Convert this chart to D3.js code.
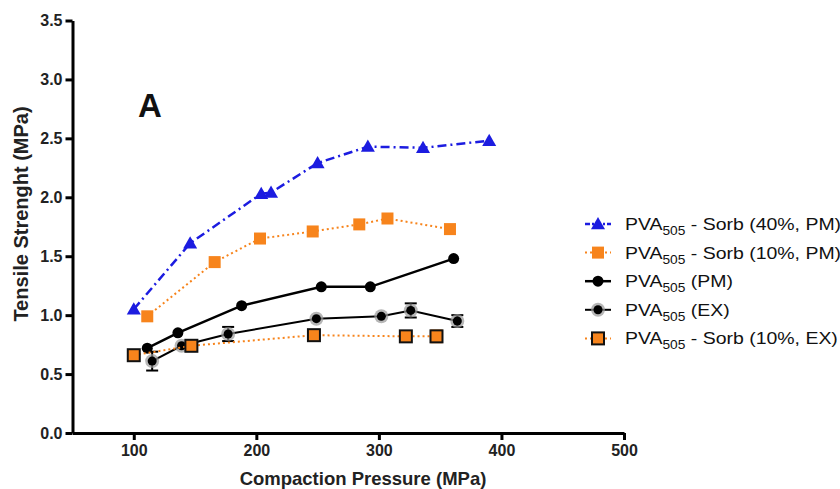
<!DOCTYPE html>
<html>
<head>
<meta charset="utf-8">
<script src="https://cdn.jsdelivr.net/npm/d3@7"></script>
<style>
    body { margin: 0; background: #fff; }
    svg text { font-family: "Liberation Sans", Arial, sans-serif; }
</style>
</head>
<body>
<svg id="chart" width="840" height="489"></svg>
<script>
// data
var sorb40PmX = [100, 146, 204, 212, 250, 291, 336, 390];
var sorb40PmY = [1.05, 1.61, 2.03, 2.04, 2.29, 2.43, 2.42, 2.48];

var sorb10PmX = [111, 166, 203, 246, 284, 307, 358];
var sorb10PmY = [0.99, 1.45, 1.65, 1.71, 1.77, 1.82, 1.73];

var pvaPmX = [111, 136, 188, 253, 293, 361];
var pvaPmY = [0.72, 0.85, 1.08, 1.24, 1.24, 1.48];

var pvaExX = [115, 139, 177, 249, 302, 326, 364];
var pvaExY = [0.61, 0.74, 0.84, 0.97, 0.99, 1.04, 0.95];
var pvaExErr = [0.08, 0, 0.06, 0, 0, 0.06, 0.05];

var sorb10ExX = [100, 147, 247, 322, 347];
var sorb10ExY = [0.66, 0.74, 0.83, 0.82, 0.82];
var sorb10ExErr = [0, 0, 0, 0, 0.05];

var xTicks = [100, 200, 300, 400, 500];
var yTicks = [0, 0.5, 1.0, 1.5, 2.0, 2.5, 3.0, 3.5];

var legendNames = [
    ["PVA", "505", " - Sorb (40%, PM)"],
    ["PVA", "505", " - Sorb (10%, PM)"],
    ["PVA", "505", " (PM)"],
    ["PVA", "505", " (EX)"],
    ["PVA", "505", " - Sorb (10%, EX)"]
];

var BLUE = "#1c1ce0";
var ORANGE = "#f7841c";

var svg = d3.select("#chart");

var x = d3.scaleLinear().domain([50, 500]).range([72.5, 624]);
var y = d3.scaleLinear().domain([0, 3.5]).range([433, 20.5]);

function zip(xs, ys, es) {
    return xs.map(function (v, i) {
        return {x: v, y: ys[i], e: es ? es[i] : 0};
    });
}

var line = d3.line()
    .x(function (d) { return x(d.x) })
    .y(function (d) { return y(d.y) });

// axes
var xAxis = svg.append("g")
    .attr("transform", "translate(0," + y(0) + ")")
    .call(d3.axisBottom(x).tickValues(xTicks).tickSize(7).tickSizeOuter(0).tickPadding(5));

var yAxis = svg.append("g")
    .attr("transform", "translate(" + x(50) + ",0)")
    .call(d3.axisLeft(y).tickValues(yTicks).tickFormat(d3.format(".1f")).tickSize(7).tickSizeOuter(0).tickPadding(3));

[xAxis, yAxis].forEach(function (g) {
    g.attr("font-family", null);
    g.select(".domain").attr("stroke", "#000").attr("stroke-width", 3);
    g.selectAll(".tick line").attr("stroke", "#000").attr("stroke-width", 3);
    g.selectAll(".tick text")
        .attr("fill", "#222")
        .style("font-size", "16px")
        .style("font-weight", "bold");
});

svg.append("text")
    .attr("x", 363)
    .attr("y", 485)
    .attr("text-anchor", "middle")
    .style("font-size", "18.5px")
    .style("font-weight", "bold")
    .attr("fill", "#222")
    .text("Compaction Pressure (MPa)");

svg.append("text")
    .attr("transform", "translate(28,214) rotate(-90)")
    .attr("text-anchor", "middle")
    .style("font-size", "20px")
    .style("font-weight", "bold")
    .attr("fill", "#222")
    .text("Tensile Strenght (MPa)");

svg.append("text")
    .attr("x", 150)
    .attr("y", 117)
    .attr("text-anchor", "middle")
    .style("font-size", "33px")
    .style("font-weight", "bold")
    .attr("fill", "#111")
    .text("A");

//画一个标记
function drawMarker(g, kind, cx, cy) {
    if (kind == "tri") {
        var s = 7;
        g.append("path")
            .attr("d", "M" + cx + "," + (cy - s) + "L" + (cx + s) + "," + (cy + s * 0.75) + "L" + (cx - s) + "," + (cy + s * 0.75) + "Z")
            .attr("fill", BLUE);
    } else if (kind == "sq") {
        g.append("rect")
            .attr("x", cx - 6).attr("y", cy - 6)
            .attr("width", 12).attr("height", 12)
            .attr("fill", ORANGE);
    } else if (kind == "dot") {
        g.append("circle")
            .attr("cx", cx).attr("cy", cy).attr("r", 5.5)
            .attr("fill", "#000");
    } else if (kind == "exdot") {
        g.append("circle")
            .attr("cx", cx).attr("cy", cy).attr("r", 7)
            .attr("fill", "#999")
            .attr("opacity", 0.7);
        g.append("circle")
            .attr("cx", cx).attr("cy", cy).attr("r", 4.5)
            .attr("fill", "#000");
    } else if (kind == "exsq") {
        g.append("rect")
            .attr("x", cx - 6).attr("y", cy - 6)
            .attr("width", 12).attr("height", 12)
            .attr("fill", ORANGE)
            .attr("stroke", "#111")
            .attr("stroke-width", 2);
    }
}

var series = [
    {data: zip(sorb40PmX, sorb40PmY), color: BLUE, width: 2.5, dash: "9,4,2,4", marker: "tri"},
    {data: zip(sorb10PmX, sorb10PmY), color: ORANGE, width: 2, dash: "2,3", marker: "sq"},
    {data: zip(pvaPmX, pvaPmY), color: "#000", width: 2.5, dash: null, marker: "dot"},
    {data: zip(pvaExX, pvaExY, pvaExErr), color: "#000", width: 2, dash: null, marker: "exdot", errColor: "#000"},
    {data: zip(sorb10ExX, sorb10ExY, sorb10ExErr), color: ORANGE, width: 2, dash: "2,3", marker: "exsq", errColor: ORANGE}
];

series.forEach(function (s) {
    var g = svg.append("g");
    g.append("path")
        .datum(s.data)
        .attr("d", line)
        .attr("fill", "none")
        .attr("stroke", s.color)
        .attr("stroke-width", s.width)
        .attr("stroke-dasharray", s.dash);

    // error bars
    s.data.filter(function (d) { return d.e > 0 }).forEach(function (d) {
        var cx = x(d.x);
        var y1 = y(d.y - d.e), y2 = y(d.y + d.e);
        g.append("line").attr("x1", cx).attr("x2", cx).attr("y1", y1).attr("y2", y2)
            .attr("stroke", s.errColor).attr("stroke-width", 2);
        [y1, y2].forEach(function (yy) {
            g.append("line").attr("x1", cx - 6).attr("x2", cx + 6).attr("y1", yy).attr("y2", yy)
                .attr("stroke", s.errColor).attr("stroke-width", 2);
        });
    });

    s.data.forEach(function (d) {
        drawMarker(g, s.marker, x(d.x), y(d.y));
    });
});

// legend
var legend = svg.append("g");
series.forEach(function (s, i) {
    var ly = 224 + i * 28.6;
    legend.append("line")
        .attr("x1", 585).attr("x2", 611).attr("y1", ly).attr("y2", ly)
        .attr("stroke", s.color)
        .attr("stroke-width", s.width)
        .attr("stroke-dasharray", s.dash ? (s.dash == "2,3" ? "2,3" : "5,2,2,2") : null);
    drawMarker(legend, s.marker, 598, ly);

    // the labels in the figure are a little wider than the font
    var t = legend.append("text")
        .attr("transform", "translate(625," + (ly + 6) + ") scale(1.145,1)")
        .style("font-size", "17px")
        .attr("fill", "#111");
    t.append("tspan").text(legendNames[i][0]);
    t.append("tspan").attr("dy", 5).style("font-size", "12px").text(legendNames[i][1]);
    t.append("tspan").attr("dy", -5).text(legendNames[i][2]);
});
</script>
</body>
</html>
